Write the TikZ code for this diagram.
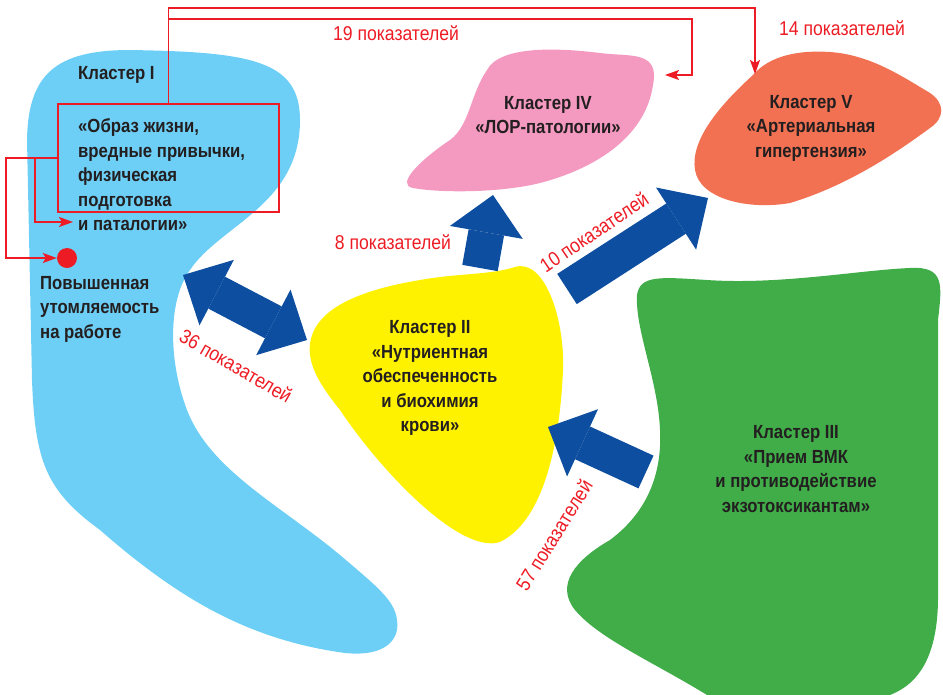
\documentclass[tikz,border=0pt]{standalone}
\usepackage{fontspec}
\setmainfont{Liberation Sans}[FakeStretch=0.88]
\usetikzlibrary{arrows.meta}
\definecolor{skyblue}{HTML}{6DCFF6}
\definecolor{lemon}{HTML}{FFF200}
\definecolor{rose}{HTML}{F49AC1}
\definecolor{coral}{HTML}{F17152}
\definecolor{grass}{HTML}{41AD49}
\definecolor{navy}{HTML}{0E4EA0}
\definecolor{signal}{HTML}{ED1C24}
\definecolor{ink}{HTML}{231F20}
\tikzstyle{cluster}=[
    font = \bfseries\fontsize{19}{24.5}\selectfont,
    text = ink,
    align = center,
    inner sep = 0
]
\tikzstyle{count}=[
    font = \fontsize{20}{22}\selectfont,
    text = signal,
    inner sep = 0
]

\begin{document}
\begin{tikzpicture}[x=1pt, y=-1pt,
    block/.style = {draw=navy, line width=36pt, -{Triangle[width=74pt, length=38pt, line width=0pt]}},
    wire/.style = {draw=signal, line width=1.5pt, -{Stealth[length=14pt, width=10pt, inset=3pt]}}]
        \useasboundingbox (0,0) rectangle (943,694);

        \fill[skyblue] (130,50) .. controls (55,50) and (28,75) .. (27,140) -- (32,380)
            .. controls (35,460) and (45,490) .. (100,530) .. controls (180,600) and (250,640) .. (345,653)
            .. controls (385,657) and (400,640) .. (397,620) .. controls (395,600) and (375,585) .. (340,555)
            .. controls (280,505) and (210,470) .. (187,410) .. controls (168,360) and (168,300) .. (190,270)
            .. controls (220,225) and (300,205) .. (300,120) .. controls (300,60) and (250,52) .. (130,50) -- cycle;
        \fill[lemon] (310,355) .. controls (305,310) and (360,290) .. (420,280)
            .. controls (460,273) and (490,275) .. (515,267) .. controls (545,258) and (565,320) .. (563,370)
            .. controls (560,440) and (545,520) .. (500,542) .. controls (460,555) and (380,470) .. (340,410)
            .. controls (320,385) and (312,370) .. (310,355) -- cycle;
        \fill[rose] (487,70) .. controls (500,45) and (560,48) .. (600,53)
            .. controls (630,57) and (660,50) .. (653,85) .. controls (645,140) and (590,170) .. (540,183)
            .. controls (500,193) and (440,193) .. (413,188) .. controls (395,185) and (420,160) .. (450,140)
            .. controls (470,125) and (470,95) .. (487,70) -- cycle;
        \fill[coral] (753,75) .. controls (770,55) and (800,50) .. (830,52)
            .. controls (870,55) and (900,75) .. (930,93) .. controls (945,103) and (945,118) .. (930,128)
            .. controls (900,150) and (850,185) .. (790,203) .. controls (750,210) and (700,200) .. (695,170)
            .. controls (690,140) and (720,105) .. (753,75) -- cycle;
        \fill[grass] (637,295) .. controls (640,275) and (660,277) .. (707,280)
            .. controls (780,285) and (860,270) .. (910,268) .. controls (945,266) and (942,285) .. (938,320)
            -- (938,600) .. controls (937,680) and (900,694) .. (873,700) -- (715,700)
            .. controls (660,665) and (600,640) .. (575,610) .. controls (555,585) and (575,560) .. (610,540)
            .. controls (650,510) and (662,470) .. (660,430) .. controls (658,380) and (635,330) .. (637,295) -- cycle;

        \node[cluster, anchor=west] (1) at (78,75) {Кластер I};
        \node[cluster, anchor=west, align=left] (1t) at (78,175) {«Образ жизни,\\вредные привычки,\\физическая\\подготовка\\и паталогии»};
        \node[draw=signal, line width=1.5pt, minimum width=221, minimum height=108] (box) at (168.5,158) {};
        \node[cluster, anchor=west, align=left] (6) at (40,309) {Повышенная\\утомляемость\\на работе};
        \node[circle, fill=signal, minimum size=20, inner sep=0] (dot) at (67,258) {};
        \node[cluster] (2) at (430,378) {Кластер II\\«Нутриентная\\обеспеченность\\и биохимия\\крови»};
        \node[cluster] (3) at (796,469) {Кластер III\\«Прием ВМК\\и противодействие\\экзотоксикантам»};
        \node[cluster] (4) at (548,115) {Кластер IV\\«ЛОР-патологии»};
        \node[cluster] (5) at (811,128) {Кластер V\\«Артериальная\\гипертензия»};

        \coordinate (1e) at (183,275);
        \coordinate (2w) at (307,340);
        \coordinate (2n) at (480,268);
        \coordinate (4s) at (493,195);
        \coordinate (2ne) at (567,289);
        \coordinate (5sw) at (708,198);
        \coordinate (3w) at (646,472);
        \coordinate (2e) at (548,427);
        \coordinate (4e) at (665,75);
        \coordinate (5n) at (755,74);
        \coordinate (tl) at (6,258);
        \coordinate (tm) at (35,222);
        \coordinate (1last) at (73,222);

        \draw[block, {Triangle[width=74pt, length=38pt, line width=0pt]}-{Triangle[width=74pt, length=38pt, line width=0pt]}] (1e) -- (2w);
        \draw[block] (2n) -- (4s);
        \draw[block] (2ne) -- (5sw);
        \draw[block] (3w) -- (2e);

        \draw[wire] (box.north) |- (692,19) |- (4e);
        \draw[wire] (box.north) |- (755,8) -- (5n);
        \draw[wire] (box.west) -| (tl) -- (dot);
        \draw[wire] (box.west) -| (tm) -- (1last);

        \node[count] (n19) at (396,33) {19 показателей};
        \node[count] (n14) at (842,28) {14 показателей};
        \node[count] (n8) at (393,242) {8 показателей};
        \node[count, rotate=34] (n10) at (594,232) {10 показателей};
        \node[count, rotate=-30] (n36) at (236,366) {36 показателей};
        \node[count, rotate=58] (n57) at (554,535) {57 показателей};

    \end{tikzpicture}
\end{document}
